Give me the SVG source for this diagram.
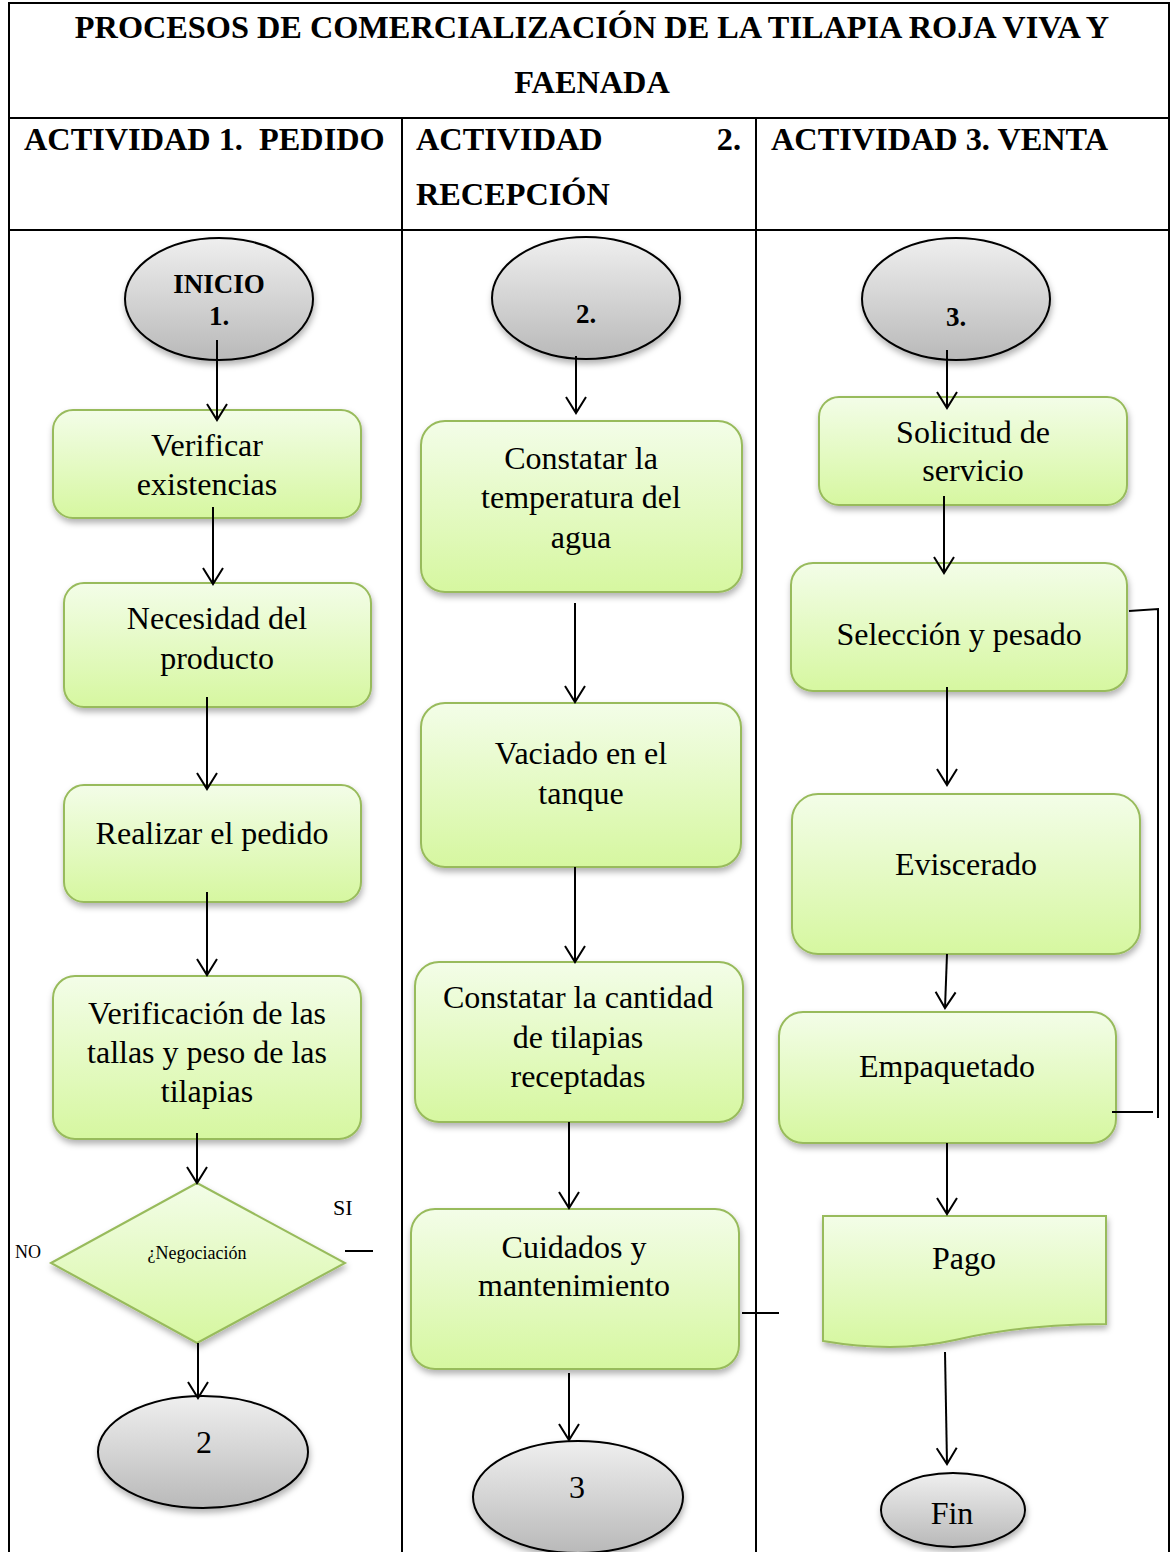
<svg xmlns="http://www.w3.org/2000/svg" width="1171" height="1552" viewBox="0 0 1171 1552">
<defs>
<linearGradient id="gGreen" x1="0" y1="0" x2="0" y2="1">
<stop offset="0" stop-color="#f3fde8"/>
<stop offset="1" stop-color="#d6f7a0"/>
</linearGradient>
<linearGradient id="gGray" x1="0" y1="0" x2="0" y2="1">
<stop offset="0" stop-color="#efefef"/>
<stop offset="1" stop-color="#b9b9b9"/>
</linearGradient>
<filter id="sh" x="-10%" y="-10%" width="125%" height="130%">
<feDropShadow dx="1" dy="4" stdDeviation="3" flood-color="#000" flood-opacity="0.3"/>
</filter>
<marker id="arr" viewBox="-18 -12 20 24" refX="0" refY="0" markerWidth="20" markerHeight="24" markerUnits="userSpaceOnUse" orient="auto">
<path d="M-16,-10 L0,0 L-16,10" fill="none" stroke="#000" stroke-width="2"/>
</marker>
</defs>
<style>
.tbl{stroke:#000;stroke-width:2;fill:none}
.box{fill:url(#gGreen);stroke:#98bb5c;stroke-width:2;filter:url(#sh)}
.ell{fill:url(#gGray);stroke:#000;stroke-width:2;filter:url(#sh)}
.t{font-family:"Liberation Serif","Times New Roman",serif;font-size:32px;fill:#000;text-anchor:middle}
.hb{font-family:"Liberation Serif","Times New Roman",serif;font-size:32.3px;font-weight:bold;fill:#000}
.eb{font-family:"Liberation Serif","Times New Roman",serif;font-size:27px;font-weight:bold;fill:#000;text-anchor:middle}
.s{font-family:"Liberation Serif","Times New Roman",serif;font-size:18px;fill:#000}
.c{stroke:#000;stroke-width:2;fill:none}
.ca{stroke:#000;stroke-width:2;fill:none;marker-end:url(#arr)}
</style>
<rect width="1171" height="1552" fill="#fff"/>
<g id="table">
<path class="tbl" d="M9,3 H1169 M9,2 V1552 M1169,2 V1552 M9,118 H1169 M9,230 H1169 M402,118 V1552 M756,118 V1552"/>
<text class="hb" x="592" y="38" text-anchor="middle">PROCESOS DE COMERCIALIZACIÓN DE LA TILAPIA ROJA VIVA Y</text>
<text class="hb" x="592" y="93" text-anchor="middle">FAENADA</text>
<text class="hb" x="24" y="150" xml:space="preserve">ACTIVIDAD 1.  PEDIDO</text>
<text class="hb" y="150"><tspan x="416">ACTIVIDAD</tspan><tspan x="741" text-anchor="end">2.</tspan></text>
<text class="hb" x="416" y="205">RECEPCIÓN</text>
<text class="hb" x="771" y="150">ACTIVIDAD 3. VENTA</text>
</g>
<g id="n-inicio1"><ellipse class="ell" cx="219" cy="299" rx="94" ry="61"/><text class="eb" x="219" y="293">INICIO</text><text class="eb" x="219" y="325">1.</text></g>
<g id="n-verificar"><rect class="box" x="53" y="410" width="308" height="108" rx="20"/><text class="t" x="207" y="456">Verificar</text><text class="t" x="207" y="495">existencias</text></g>
<g id="n-necesidad"><rect class="box" x="64" y="583" width="307" height="124" rx="20"/><text class="t" x="217" y="629">Necesidad del</text><text class="t" x="217" y="669">producto</text></g>
<g id="n-realizar"><rect class="box" x="64" y="785" width="297" height="117" rx="20"/><text class="t" x="212" y="844">Realizar el pedido</text></g>
<g id="n-verificacion"><rect class="box" x="53" y="976" width="308" height="163" rx="22"/><text class="t" x="207" y="1024">Verificación de las</text><text class="t" x="207" y="1063">tallas y peso de las</text><text class="t" x="207" y="1102">tilapias</text></g>
<g id="n-negociacion"><polygon class="box" points="51,1263 197,1183 345,1263 197,1343"/><text class="s" x="197" y="1259" text-anchor="middle">¿Negociación</text></g>
<g id="n-2"><ellipse class="ell" cx="203" cy="1452" rx="105" ry="56"/><text class="t" x="204" y="1453">2</text></g>
<g id="n-2start"><ellipse class="ell" cx="586" cy="298" rx="94" ry="61"/><text class="eb" x="586" y="323">2.</text></g>
<g id="n-temperatura"><rect class="box" x="421" y="421" width="321" height="171" rx="24"/><text class="t" x="581" y="469">Constatar la</text><text class="t" x="581" y="508">temperatura del</text><text class="t" x="581" y="548">agua</text></g>
<g id="n-vaciado"><rect class="box" x="421" y="703" width="320" height="164" rx="24"/><text class="t" x="581" y="764">Vaciado en el</text><text class="t" x="581" y="804">tanque</text></g>
<g id="n-cantidad"><rect class="box" x="415" y="962" width="328" height="160" rx="24"/><text class="t" x="578" y="1008">Constatar la cantidad</text><text class="t" x="578" y="1048">de tilapias</text><text class="t" x="578" y="1087">receptadas</text></g>
<g id="n-cuidados"><rect class="box" x="411" y="1209" width="328" height="160" rx="24"/><text class="t" x="574" y="1258">Cuidados y</text><text class="t" x="574" y="1296">mantenimiento</text></g>
<g id="n-3"><ellipse class="ell" cx="578" cy="1497" rx="105" ry="56"/><text class="t" x="577" y="1498">3</text></g>
<g id="n-3start"><ellipse class="ell" cx="956" cy="299" rx="94" ry="61"/><text class="eb" x="956" y="326">3.</text></g>
<g id="n-solicitud"><rect class="box" x="819" y="397" width="308" height="108" rx="20"/><text class="t" x="973" y="443">Solicitud de</text><text class="t" x="973" y="481">servicio</text></g>
<g id="n-seleccion"><rect class="box" x="791" y="563" width="336" height="128" rx="22"/><text class="t" x="959" y="645">Selección y pesado</text></g>
<g id="n-eviscerado"><rect class="box" x="792" y="794" width="348" height="160" rx="26"/><text class="t" x="966" y="875">Eviscerado</text></g>
<g id="n-empaquetado"><rect class="box" x="779" y="1012" width="337" height="131" rx="24"/><text class="t" x="947" y="1077">Empaquetado</text></g>
<g id="n-pago"><path class="box" d="M823,1216 H1106 V1324 C1040,1324 990,1332 955,1340 C915,1349 870,1349 823,1341 Z"/><text class="t" x="964" y="1269">Pago</text></g>
<g id="n-fin"><ellipse class="ell" cx="953" cy="1510" rx="72" ry="37"/><text class="t" x="952" y="1524">Fin</text></g>
<g id="labels">
<text class="s" x="15" y="1258">NO</text>
<text class="s" x="333" y="1215" style="font-size:22px">SI</text>
</g>
<g id="connectors">
<path class="ca" d="M217,340 V420"/>
<path class="ca" d="M213,507 V584"/>
<path class="ca" d="M207,697 V789"/>
<path class="ca" d="M207,892 V975"/>
<path class="ca" d="M197,1133 V1183"/>
<path class="ca" d="M198,1343 V1398"/>
<path class="ca" d="M576,356 V413"/>
<path class="ca" d="M575,603 V702"/>
<path class="ca" d="M575,867 V962"/>
<path class="ca" d="M569,1122 V1208"/>
<path class="ca" d="M569,1373 V1440"/>
<path class="ca" d="M947,350 V408"/>
<path class="ca" d="M944,496 V573"/>
<path class="ca" d="M947,687 V785"/>
<path class="ca" d="M947,954 L945,1008"/>
<path class="ca" d="M947,1143 V1214"/>
<path class="ca" d="M945,1352 L947,1464"/>
<path class="c" d="M345,1251 H373"/>
<path class="c" d="M742,1313 H779"/>
<path class="c" d="M1129,611 L1158,609 V1118"/>
<path class="c" d="M1112,1112 H1153"/>
</g>
</svg>
